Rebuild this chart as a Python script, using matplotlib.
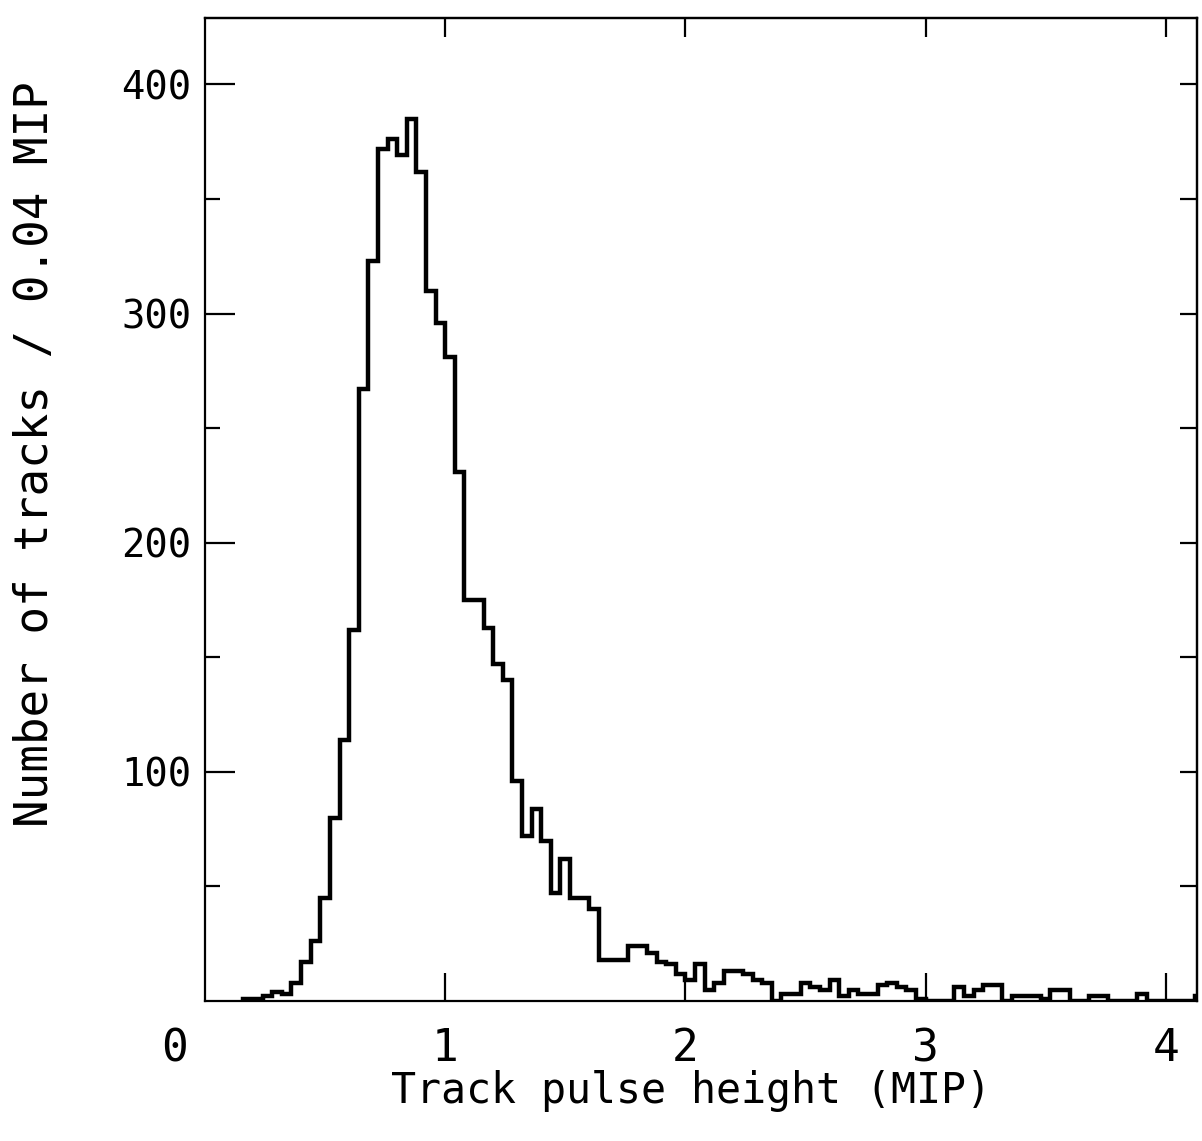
import matplotlib
matplotlib.use("Agg")
import matplotlib.pyplot as plt
import numpy as np

# histogram of track pulse heights, bins of 0.04 MIP starting at 0.16 MIP
bin_width = 0.04
first_edge = 0.16
counts = [
    1, 1, 2, 4, 3, 8, 17, 26, 45, 80,            # 0.16 - 0.56
    114, 162, 267, 323, 372, 376, 369, 385, 362, 310,  # 0.56 - 0.96
    296, 281, 231, 175, 175, 163, 147, 140, 96, 72,    # 0.96 - 1.36
    84, 70, 47, 62, 45, 45, 40, 18, 18, 18,      # 1.36 - 1.76
    24, 24, 21, 17, 16, 12, 9, 16, 5, 8,         # 1.76 - 2.16
    13, 13, 12, 9, 8, 0, 3, 3, 8, 6,             # 2.16 - 2.56
    5, 9, 2, 5, 3, 3, 7, 8, 6, 5,                # 2.56 - 2.96
    1, 0, 0, 0, 6, 2, 5, 7, 7, 0,                # 2.96 - 3.36
    2, 2, 2, 1, 5, 5, 0, 0, 2, 2,                # 3.36 - 3.76
    0, 0, 0, 3, 0, 0, 0, 0, 0, 2,                # 3.76 - 4.16
]
edges = first_edge + bin_width * np.arange(len(counts) + 1)

x_ticks = [1, 2, 3, 4]
y_major = [100, 200, 300, 400]
y_minor = [50, 150, 250, 350]

mono = "DejaVu Sans Mono"

fig = plt.figure(figsize=(12.02, 11.41), dpi=100)
ax = fig.add_axes([205 / 1202, 1 - 1001 / 1141, 992 / 1202, 983 / 1141])

ax.stairs(counts, edges, color="black", linewidth=3.2)

ax.set_xlim(0, 4.13)
ax.set_ylim(0, 429)

for s in ax.spines.values():
    s.set_linewidth(1.6)

ax.set_xticks(x_ticks)
ax.set_xticklabels([str(t) for t in x_ticks], fontfamily=mono, fontsize=32)
ax.set_yticks(y_major)
ax.set_yticks(y_minor, minor=True)
ax.set_yticklabels([str(t) for t in y_major], fontfamily=mono, fontsize=28)

ax.tick_params(axis="x", which="major", direction="in", length=20, width=1.6, pad=19)
ax.tick_params(axis="y", which="major", direction="in", length=21.6, width=1.6, pad=10)
ax.tick_params(axis="y", which="minor", direction="in", length=10.5, width=1.6)

# shared origin label, set off to the lower left
ax.annotate("0", xy=(0, 0), xycoords="data", xytext=(-22, -19),
            textcoords="offset points", ha="center", va="top",
            fontfamily=mono, fontsize=32)

# ticks on the right and top frame
right = ax.secondary_yaxis("right")
right.set_yticks(list(range(50, 401, 50)))
right.tick_params(direction="in", length=12, width=1.6, labelright=False)
right.spines["right"].set_linewidth(1.6)

top = ax.secondary_xaxis("top")
top.set_xticks(x_ticks)
top.tick_params(direction="in", length=14, width=1.6, labeltop=False)
top.spines["top"].set_linewidth(1.6)

fig.text(691 / 1202, 1 - 1091 / 1141, "Track pulse height (MIP)",
         ha="center", va="center", fontfamily=mono, fontsize=30)
fig.text(36 / 1202, 1 - 454 / 1141, "Number of tracks / 0.04 MIP",
         ha="center", va="center", rotation=90, fontfamily=mono, fontsize=33)

fig.savefig("out.png", dpi=100)
